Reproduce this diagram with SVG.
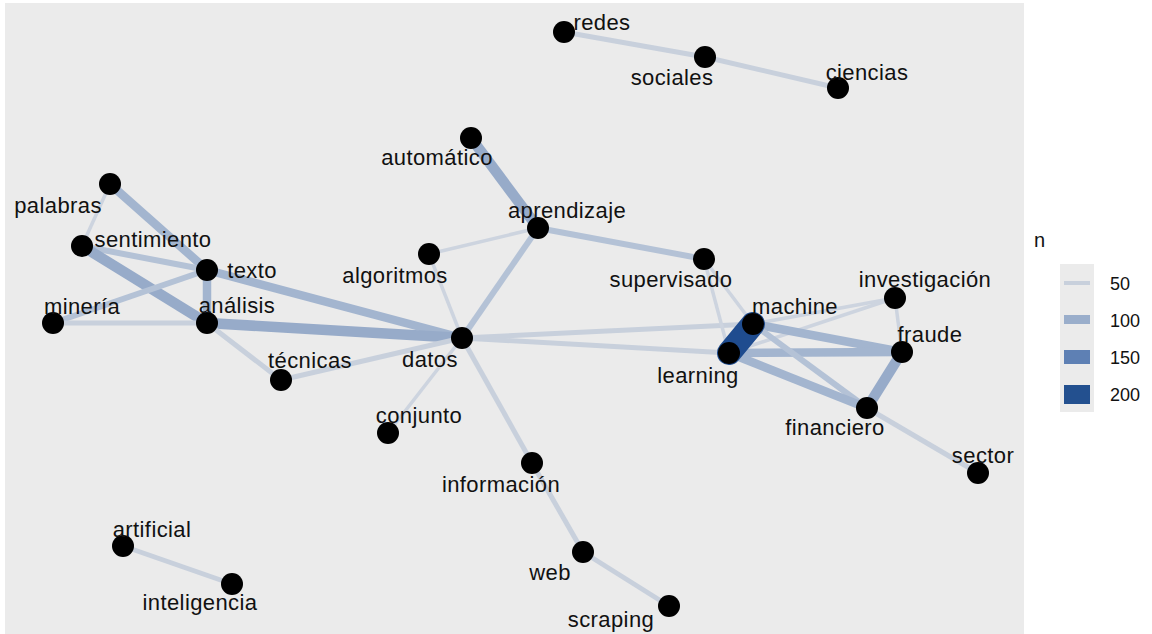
<svg xmlns="http://www.w3.org/2000/svg" width="1152" height="634" viewBox="0 0 1152 634">
<style>
.bg{fill:#EBEBEB}
line{stroke-linecap:butt}
.e1{stroke:#C8D0DC;stroke-width:5}
.e0{stroke:#CDD4DF;stroke-width:3.5}
.e2{stroke:#B4C2D6;stroke-width:6}
.e3{stroke:#A3B5CF;stroke-width:8.5}
.e4{stroke:#97ABC9;stroke-width:10.5}
.e5{stroke:#1F4C8F;stroke-width:24;stroke-linecap:round}
circle{fill:#000}
text{font-family:"Liberation Sans",Arial,sans-serif;font-size:22px;fill:#111111;text-anchor:middle;letter-spacing:0.4px}
.lg{text-anchor:start;font-size:18px;letter-spacing:0}
</style>
<rect width="1152" height="634" fill="#FFFFFF"/>
<rect class="bg" x="5" y="3" width="1019" height="631"/>
<g id="connectors">
<line class="e1" x1="564" y1="32" x2="705" y2="57"/>
<line class="e1" x1="705" y1="57" x2="838" y2="88"/>
<line class="e4" x1="471" y1="138" x2="538" y2="228"/>
<line class="e2" x1="538" y1="228" x2="704" y2="259"/>
<line class="e0" x1="538" y1="228" x2="429" y2="254"/>
<line class="e2" x1="538" y1="228" x2="462" y2="338"/>
<line class="e3" x1="110" y1="184" x2="207" y2="270"/>
<line class="e0" x1="110" y1="184" x2="82" y2="246"/>
<line class="e2" x1="82" y1="246" x2="207" y2="270"/>
<line class="e4" x1="82" y1="246" x2="207" y2="323"/>
<line class="e3" x1="207" y1="270" x2="207" y2="323"/>
<line class="e2" x1="207" y1="270" x2="53" y2="323"/>
<line class="e3" x1="207" y1="270" x2="462" y2="338"/>
<line class="e1" x1="53" y1="323" x2="207" y2="323"/>
<line class="e4" x1="207" y1="323" x2="462" y2="338"/>
<line class="e1" x1="207" y1="323" x2="281" y2="380"/>
<line class="e1" x1="281" y1="380" x2="462" y2="338"/>
<line class="e0" x1="429" y1="254" x2="462" y2="338"/>
<line class="e0" x1="462" y1="338" x2="388" y2="433"/>
<line class="e1" x1="462" y1="338" x2="532" y2="463"/>
<line class="e1" x1="462" y1="338" x2="753" y2="324"/>
<line class="e1" x1="462" y1="338" x2="729" y2="353"/>
<line class="e1" x1="532" y1="463" x2="583" y2="552"/>
<line class="e1" x1="583" y1="552" x2="669" y2="606"/>
<line class="e0" x1="704" y1="259" x2="729" y2="353"/>
<line class="e0" x1="704" y1="259" x2="753" y2="324"/>
<line class="e0" x1="753" y1="324" x2="895" y2="298"/>
<line class="e0" x1="729" y1="353" x2="895" y2="298"/>
<line class="e0" x1="895" y1="298" x2="902" y2="352"/>
<line class="e3" x1="753" y1="324" x2="902" y2="352"/>
<line class="e3" x1="729" y1="353" x2="902" y2="352"/>
<line class="e2" x1="753" y1="324" x2="867" y2="408"/>
<line class="e3" x1="729" y1="353" x2="867" y2="408"/>
<line class="e4" x1="902" y1="352" x2="867" y2="408"/>
<line class="e1" x1="867" y1="408" x2="978" y2="473"/>
<line class="e1" x1="123" y1="546" x2="232" y2="584"/>
<line class="e5" x1="753" y1="324" x2="729" y2="353"/>
</g>
<g id="n-redes"><circle cx="564" cy="32" r="11"/><text x="602" y="30">redes</text></g>
<g id="n-sociales"><circle cx="705" cy="57" r="11"/><text x="672" y="85">sociales</text></g>
<g id="n-ciencias"><circle cx="838" cy="88" r="11"/><text x="867" y="80">ciencias</text></g>
<g id="n-automatico"><circle cx="471" cy="138" r="11"/><text x="437" y="165">automático</text></g>
<g id="n-aprendizaje"><circle cx="538" cy="228" r="11"/><text x="567" y="218">aprendizaje</text></g>
<g id="n-palabras"><circle cx="110" cy="184" r="11"/><text x="58" y="213">palabras</text></g>
<g id="n-sentimiento"><circle cx="82" cy="246" r="11"/><text x="153" y="247">sentimiento</text></g>
<g id="n-texto"><circle cx="207" cy="270" r="11"/><text x="252" y="278">texto</text></g>
<g id="n-algoritmos"><circle cx="429" cy="254" r="11"/><text x="395" y="283">algoritmos</text></g>
<g id="n-supervisado"><circle cx="704" cy="259" r="11"/><text x="671" y="287">supervisado</text></g>
<g id="n-investigacion"><circle cx="895" cy="298" r="11"/><text x="925" y="287">investigación</text></g>
<g id="n-mineria"><circle cx="53" cy="323" r="11"/><text x="82" y="314">minería</text></g>
<g id="n-analisis"><circle cx="207" cy="323" r="11"/><text x="237" y="313">análisis</text></g>
<g id="n-machine"><circle cx="753" cy="324" r="11"/><text x="795" y="314">machine</text></g>
<g id="n-fraude"><circle cx="902" cy="352" r="11"/><text x="930" y="342">fraude</text></g>
<g id="n-datos"><circle cx="462" cy="338" r="11"/><text x="430" y="367">datos</text></g>
<g id="n-learning"><circle cx="729" cy="353" r="11"/><text x="698" y="383">learning</text></g>
<g id="n-tecnicas"><circle cx="281" cy="380" r="11"/><text x="310" y="368">técnicas</text></g>
<g id="n-financiero"><circle cx="867" cy="408" r="11"/><text x="835" y="435">financiero</text></g>
<g id="n-conjunto"><circle cx="388" cy="433" r="11"/><text x="419" y="423">conjunto</text></g>
<g id="n-informacion"><circle cx="532" cy="463" r="11"/><text x="501" y="492">información</text></g>
<g id="n-sector"><circle cx="978" cy="473" r="11"/><text x="983" y="463">sector</text></g>
<g id="n-web"><circle cx="583" cy="552" r="11"/><text x="550" y="580">web</text></g>
<g id="n-scraping"><circle cx="669" cy="606" r="11"/><text x="611" y="627">scraping</text></g>
<g id="n-artificial"><circle cx="123" cy="546" r="11"/><text x="152" y="537">artificial</text></g>
<g id="n-inteligencia"><circle cx="232" cy="584" r="11"/><text x="200" y="610">inteligencia</text></g>
<g id="legend">
<text class="lg" x="1034" y="247" style="font-size:20px">n</text>
<rect x="1060" y="264" width="34" height="148" fill="#EBEBEB"/>
<rect x="1064" y="281" width="26" height="4" fill="#C8D0DC"/>
<rect x="1064" y="315" width="26" height="9" fill="#9AAECB"/>
<rect x="1064" y="350" width="26" height="14" fill="#5E80B4"/>
<rect x="1064" y="385" width="26" height="19" fill="#23508F"/>
<text class="lg" x="1110" y="290">50</text>
<text class="lg" x="1110" y="327">100</text>
<text class="lg" x="1110" y="364">150</text>
<text class="lg" x="1110" y="401">200</text>
</g>
</svg>
